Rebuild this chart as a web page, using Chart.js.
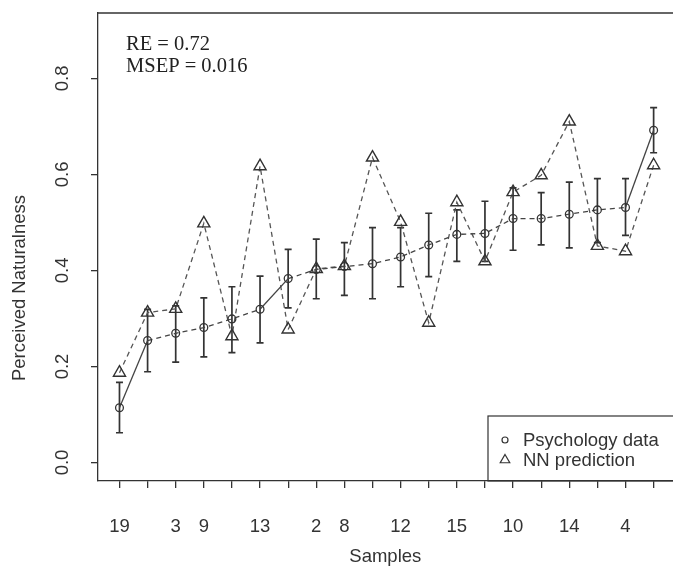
<!DOCTYPE html>
<html><head><meta charset="utf-8">
<script src="https://cdn.jsdelivr.net/npm/chart.js@4.4.1/dist/chart.umd.min.js"></script>
<style>html,body{margin:0;padding:0;background:#fff;overflow:hidden;width:673px;height:568px;}</style>
</head><body>
<canvas id="c" width="681" height="568"></canvas>
<script>
// ---- data ----
const sampleIndex = [1,2,3,4,5,6,7,8,9,10,11,12,13,14,15,16,17,18,19,20];
const sampleLabels = ["19","","3","9","","13","","2","8","","12","","15","","10","","14","","4",""];
const psychology = [0.114,0.254,0.269,0.281,0.299,0.319,0.383,0.402,0.408,0.414,0.428,0.453,0.475,0.477,0.508,0.508,0.517,0.526,0.531,0.692];
const psychLow   = [0.062,0.189,0.209,0.220,0.229,0.249,0.322,0.341,0.348,0.341,0.366,0.387,0.419,0.419,0.442,0.453,0.447,0.458,0.473,0.645];
const psychHigh  = [0.167,0.319,0.326,0.343,0.366,0.388,0.444,0.465,0.458,0.489,0.489,0.519,0.526,0.544,0.572,0.562,0.584,0.591,0.591,0.739];
const nnPrediction = [0.187,0.312,0.320,0.498,0.263,0.617,0.277,0.403,0.409,0.635,0.501,0.291,0.542,0.419,0.563,0.598,0.710,0.451,0.440,0.619];
const yTicks = [0.0,0.2,0.4,0.6,0.8];
const statsText = ["RE = 0.72","MSEP = 0.016"];
const seriesNames = ["Psychology data","NN prediction"];
const xTitle = "Samples";
const yTitle = "Perceived Naturalness";

const INK = '#333';
const SANS = '"Liberation Sans", Arial, sans-serif';
const solidSegments = [0,5,18];

const errorBars = {
  id:'errorBars',
  beforeDatasetsDraw(chart){
    const {ctx, scales:{x,y}} = chart;
    ctx.save();
    ctx.strokeStyle = INK; ctx.lineWidth = 1.7;
    for (let i=0;i<sampleIndex.length;i++){
      const px = x.getPixelForValue(sampleIndex[i]);
      const lo = y.getPixelForValue(psychLow[i]);
      const hi = y.getPixelForValue(psychHigh[i]);
      ctx.beginPath();
      ctx.moveTo(px,lo); ctx.lineTo(px,hi);
      ctx.moveTo(px-3.5,lo); ctx.lineTo(px+3.5,lo);
      ctx.moveTo(px-3.5,hi); ctx.lineTo(px+3.5,hi);
      ctx.stroke();
    }
    ctx.restore();
  }
};

const frame = {
  id:'frame',
  afterDraw(chart){
    const {ctx, chartArea:a} = chart;
    ctx.save();
    ctx.strokeStyle = INK; ctx.lineWidth = 1.3;
    ctx.beginPath(); ctx.moveTo(a.left, a.top); ctx.lineTo(a.right+5, a.top); ctx.stroke();
    // y axis title
    ctx.save();
    ctx.translate(20, 288);
    ctx.rotate(-Math.PI/2);
    ctx.font = '18.5px ' + SANS;
    ctx.fillStyle = '#333';
    ctx.textAlign = 'center'; ctx.textBaseline = 'middle';
    ctx.fillText(yTitle, 0, 0);
    ctx.restore();
    // stats text
    ctx.fillStyle = '#222';
    ctx.font = '20.5px "Liberation Serif", "Times New Roman", serif';
    ctx.textBaseline = 'alphabetic'; ctx.textAlign = 'left';
    ctx.fillText(statsText[0], a.left+28, a.top+37);
    ctx.fillText(statsText[1], a.left+28, a.top+59);
    // legend box
    const bx = 488, by = 416;
    ctx.strokeStyle = INK; ctx.lineWidth = 1.2;
    ctx.strokeRect(bx, by, a.right - bx + 10, a.bottom - by);
    const ds = chart.data.datasets;
    const rows = [by+24, by+44];
    ds.forEach((d,k)=>{
      ctx.fillStyle = 'rgba(0,0,0,0)';
      ctx.strokeStyle = INK; ctx.lineWidth = 1.2;
      Chart.helpers.drawPoint(ctx, {pointStyle: d.pointStyle, radius: k===0?3:5.5, borderWidth:1.2, rotation:0}, bx+17, rows[k]);
      ctx.font = '18.5px ' + SANS;
      ctx.fillStyle = '#333';
      ctx.textBaseline = 'middle';
      ctx.fillText(d.label, bx+35, rows[k]+1);
    });
    ctx.restore();
  }
};

const zeroPad = s => { s.paddingTop = 0; s.paddingBottom = 0; s.paddingLeft = 0; s.paddingRight = 0; };

const chart = new Chart(document.getElementById('c'), {
  type:'line',
  data:{
    datasets:[
      {
        label: seriesNames[0],
        data: sampleIndex.map((v,i)=>({x:v, y:psychology[i]})),
        borderColor:'#444', borderWidth:1.3, borderDash:[5,4],
        segment:{ borderDash: ctx => solidSegments.includes(ctx.p0DataIndex) ? [] : [5,4] },
        pointStyle:'circle', pointRadius:3.9, pointBorderWidth:1.3,
        pointBorderColor:INK, pointBackgroundColor:'rgba(0,0,0,0)',
        tension:0
      },
      {
        label: seriesNames[1],
        data: sampleIndex.map((v,i)=>({x:v, y:nnPrediction[i]})),
        borderColor:'#555', borderWidth:1.3, borderDash:[5,4],
        pointStyle:'triangle', pointRadius:7, pointBorderWidth:1.4,
        pointBorderColor:INK, pointBackgroundColor:'rgba(0,0,0,0)',
        tension:0
      }
    ]
  },
  options:{
    responsive:false, animation:false, devicePixelRatio:1,
    layout:{ padding:{top:13, right:0, left:0, bottom:0} },
    plugins:{ legend:{display:false}, tooltip:{enabled:false} },
    scales:{
      x:{
        type:'linear', min:0.236, max:20.675,
        afterBuildTicks: s => { s.ticks = sampleIndex.map(v=>({value:v})); },
        afterFit: s => { s.height = 87; zeroPad(s); },
        ticks:{ autoSkip:false, maxRotation:0, minRotation:0, padding:28, color:'#333',
          font:{family:SANS, size:18.5},
          callback: v => sampleLabels[v-1] ?? '' },
        grid:{ drawOnChartArea:false, drawTicks:true, tickLength:7, color:INK, lineWidth:1.3 },
        border:{ display:true, color:INK, width:1.3 },
        title:{ display:true, text:xTitle, color:'#333', padding:{top:0,bottom:0},
          font:{family:SANS, size:18.5} }
      },
      y:{
        type:'linear', min:-0.0385, max:0.936,
        afterBuildTicks: s => { s.ticks = yTicks.map(v=>({value:v})); },
        afterFit: s => { s.width = 98; zeroPad(s); },
        ticks:{ minRotation:90, maxRotation:90, crossAlign:'center', padding:15, color:'#333',
          font:{family:SANS, size:18.5},
          callback: v => v.toFixed(1) },
        grid:{ drawOnChartArea:false, drawTicks:true, tickLength:7, color:INK, lineWidth:1.3 },
        border:{ display:true, color:INK, width:1.3 },
        title:{ display:false }
      }
    }
  },
  plugins:[errorBars, frame]
});
</script>
</body></html>
